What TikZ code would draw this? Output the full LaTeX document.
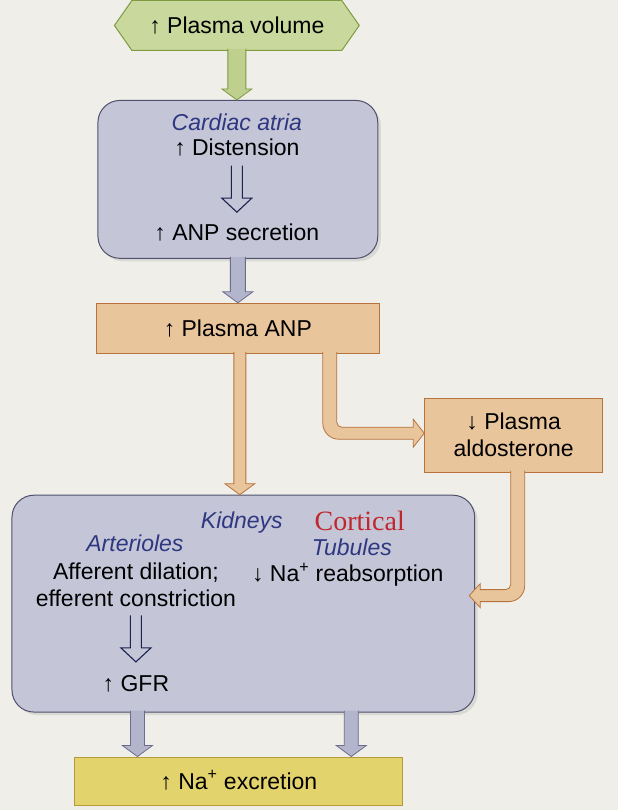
\documentclass[tikz,border=0pt]{standalone}
\usepackage{fontspec}
\setmainfont{Liberation Sans}
\newfontfamily\cortfont{Liberation Serif}
\usetikzlibrary{shapes.symbols,shadows}

\definecolor{paper}{HTML}{EFEEE9}
\definecolor{volfill}{HTML}{C9D89C}
\definecolor{voldraw}{HTML}{7F9A3F}
\definecolor{organfill}{HTML}{C4C6D8}
\definecolor{organdraw}{HTML}{50506E}
\definecolor{tanfill}{HTML}{E9C59B}
\definecolor{tandraw}{HTML}{B8733D}
\definecolor{naefill}{HTML}{E3D36C}
\definecolor{naedraw}{HTML}{B59A3A}
\definecolor{grayfill}{HTML}{B3B5CC}
\definecolor{graydraw}{HTML}{6B6D8C}
\definecolor{labelblue}{HTML}{2F3780}
\definecolor{cortred}{HTML}{C0272D}

\newcommand{\blockdown}[4][7pt]{%
  \draw[#2] ([xshift=-#1,yshift=2pt]#3) -- ([xshift=-#1,yshift=11pt]#4)
    -- ([xshift=-15pt,yshift=11pt]#4) -- (#4) -- ([xshift=15pt,yshift=11pt]#4)
    -- ([xshift=#1,yshift=11pt]#4) -- ([xshift=#1,yshift=2pt]#3);}
\newcommand{\hollowdown}[2]{%
  \draw[thinarr] ([xshift=-5.5pt]#1) -- ([xshift=-5.5pt,yshift=14pt]#2)
    -- ([xshift=-15pt,yshift=14pt]#2) -- (#2) -- ([xshift=15pt,yshift=14pt]#2)
    -- ([xshift=5.5pt,yshift=14pt]#2) -- ([xshift=5.5pt]#1);}

\begin{document}
\begin{tikzpicture}[x=1pt,y=1pt,
    txt/.style={font=\fontsize{23}{27}\selectfont, text=black, inner sep=1pt, align=center},
    oneline/.style={txt, text height=19pt, text depth=3pt},
    organ/.style={oneline, text=labelblue, font=\fontsize{23}{27}\selectfont\itshape},
    bigbox/.style={draw=organdraw, line width=1pt, fill=organfill, rounded corners=22pt,
      drop shadow={opacity=0.2, shadow xshift=3pt, shadow yshift=-3pt}},
    tanbox/.style={txt, draw=tandraw, line width=1pt, fill=tanfill},
    greenarrow/.style={draw=voldraw, fill=volfill!85!voldraw, line width=0.8pt},
    grayarrow/.style={draw=graydraw, fill=grayfill, line width=0.8pt},
    tanarrow/.style={draw=tandraw, fill=tanfill, line width=0.8pt},
    thinarr/.style={draw=labelblue!60!black, line width=1.1pt, line join=miter}]

  \fill[paper] (0,0) rectangle (618,810);

  \node[oneline, signal, signal to=west and east, signal pointer angle=110, draw=voldraw,
    line width=1pt, fill=volfill, minimum width=245pt, minimum height=50pt] (vol) at (237,785) {↑ Plasma volume};

  \node[bigbox, minimum width=280pt, minimum height=158pt] (cardiac) at (238,631) {};
  \node[organ] (atria) at (237,688) {Cardiac atria};
  \node[oneline] (dist) at (237,663) {↑ Distension};
  \node[oneline] (anpsec) at (237,578) {↑ ANP secretion};

  \node[tanbox, oneline, minimum width=283pt, minimum height=50pt] (anp) at (238,482) {↑ Plasma ANP};
  \node[tanbox, minimum width=178pt, minimum height=74pt] (aldo) at (514,375) {↓ Plasma\\aldosterone};

  \node[bigbox, minimum width=463pt, minimum height=217pt] (kid) at (243.5,206.5) {};
  \node[organ] (kidneys) at (242,290) {Kidneys};
  \node[oneline, text=cortred, font=\fontsize{28}{30}\selectfont\cortfont] (cortical) at (360,288) {Cortical};
  \node[organ] (arterioles) at (135,267) {Arterioles};
  \node[organ] (tubules) at (352,263) {Tubules};
  \node[txt] (afferent) at (136,225) {Afferent dilation;\\efferent constriction};
  \node[oneline] (reab) at (348,237) {↓ Na\textsuperscript{+} reabsorption};
  \node[oneline] (gfr) at (136,127) {↑ GFR};

  \node[oneline, draw=naedraw, line width=1pt, fill=naefill, minimum width=328pt,
    minimum height=48pt] (nae) at (239,29) {↑ Na\textsuperscript{+} excretion};

  \coordinate (h1) at ([yshift=-6pt]dist.south);
  \coordinate (h2) at ([yshift=8pt]anpsec.north);
  \hollowdown{h1}{h2}
  \coordinate (h3) at ([yshift=-7pt]afferent.south);
  \coordinate (h4) at ([yshift=9pt]gfr.north);
  \hollowdown{h3}{h4}

  \coordinate (v1) at (vol.south |- cardiac.north);
  \blockdown[9pt]{greenarrow}{vol.south}{v1}
  \coordinate (c1) at (cardiac.south |- anp.north);
  \blockdown[7.5pt]{grayarrow}{cardiac.south}{c1}
  \coordinate (a1) at ([xshift=2pt]anp.south);
  \coordinate (a2) at (a1 |- kid.north);
  \blockdown[6pt]{tanarrow}{a1}{a2}
  \coordinate (k1) at ([xshift=-106pt]kid.south);
  \coordinate (k2) at ([xshift=108pt]kid.south);
  \coordinate (n1) at (k1 |- nae.north);
  \coordinate (n2) at (k2 |- nae.north);
  \blockdown{grayarrow}{k1}{n1}
  \blockdown{grayarrow}{k2}{n2}

  \coordinate (b1) at ([xshift=92pt]anp.south);
  \coordinate (t1) at ([yshift=2pt]aldo.west);
  \coordinate (e1) at (b1 |- t1);
  \draw[tanarrow] ([xshift=-7pt,yshift=2pt]b1) [rounded corners=16pt] -- ([xshift=-7pt,yshift=-6pt]e1) [sharp corners]
    -- ([xshift=-11pt,yshift=-6pt]t1) -- ([xshift=-11pt,yshift=-14pt]t1) -- (t1) -- ([xshift=-11pt,yshift=14pt]t1)
    -- ([xshift=-11pt,yshift=6pt]t1) [rounded corners=5pt] -- ([xshift=7pt,yshift=6pt]e1) [sharp corners]
    -- ([xshift=7pt,yshift=2pt]b1);

  \coordinate (b2) at ([xshift=4pt]aldo.south);
  \coordinate (t2) at ([xshift=-6pt,yshift=8pt]kid.east);
  \coordinate (e2) at (b2 |- t2);
  \draw[tanarrow] ([xshift=7pt,yshift=2pt]b2) [rounded corners=16pt] -- ([xshift=7pt,yshift=-6pt]e2) [sharp corners]
    -- ([xshift=11pt,yshift=-6pt]t2) -- ([xshift=11pt,yshift=-12pt]t2) -- (t2) -- ([xshift=11pt,yshift=12pt]t2)
    -- ([xshift=11pt,yshift=6pt]t2) [rounded corners=5pt] -- ([xshift=-7pt,yshift=6pt]e2) [sharp corners]
    -- ([xshift=-7pt,yshift=2pt]b2);
\end{tikzpicture}
\end{document}
